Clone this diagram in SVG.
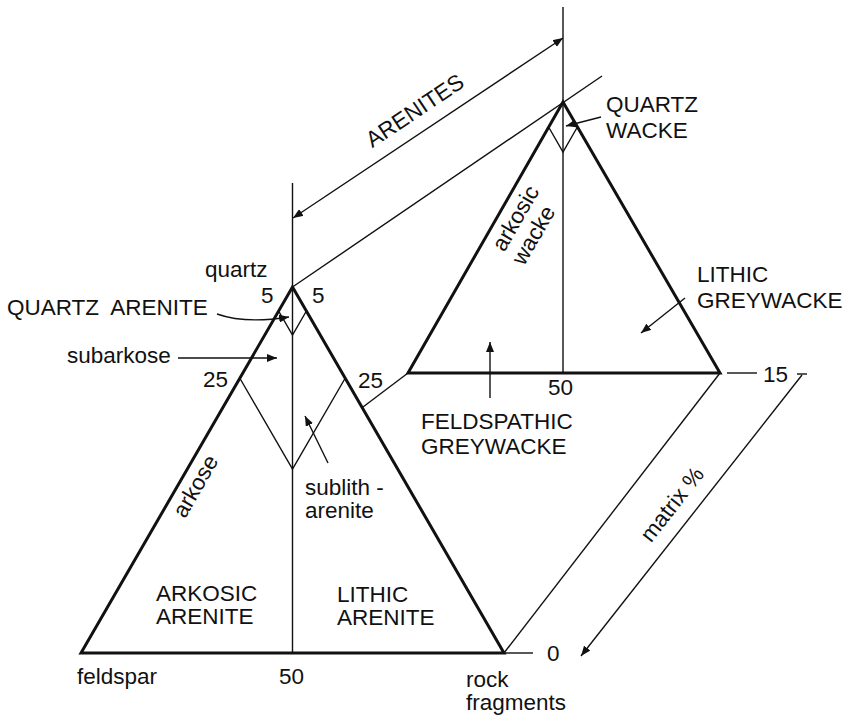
<svg xmlns="http://www.w3.org/2000/svg" width="855" height="719" viewBox="0 0 855 719">
<style>
text{font-family:"Liberation Sans",Arial,sans-serif;font-size:22.5px;fill:#111}
.thick{stroke:#111;stroke-width:3;fill:none;stroke-linejoin:miter}
.thin{stroke:#111;stroke-width:1.4;fill:none}
.arr{stroke:#111;stroke-width:1.4;fill:none;marker-end:url(#ah)}
</style>
<defs>
<marker id="ah" viewBox="0 0 10 8" refX="10" refY="4" markerWidth="10" markerHeight="8" markerUnits="userSpaceOnUse" orient="auto-start-reverse">
<path d="M0,0 L10,4 L0,8 Z" fill="#111"/>
</marker>
</defs>
<rect width="855" height="719" fill="#fff"/>

<g id="front-triangle">
<line class="thin" x1="292.5" y1="183" x2="292.5" y2="653"/>
<polyline class="thin" points="278.6,311 292.5,335 306.4,311"/>
<polyline class="thin" points="240,378.5 292.5,469 345,378.5"/>
<path class="thick" d="M81,653 L292.5,287 L504,653 Z"/>
<line class="thin" x1="504" y1="653" x2="533" y2="653"/>
</g>

<g id="back-triangle">
<line class="thin" x1="563" y1="7" x2="563" y2="373"/>
<polyline class="thin" points="548.6,127 563,152 577.4,127"/>
<path class="thick" d="M408,373 L563,102 L720,373 Z"/>
<line class="thin" x1="727" y1="373" x2="757" y2="373"/>
<line class="thin" x1="797" y1="374" x2="807" y2="374"/>
</g>

<g id="connectors">
<line class="thin" x1="292.5" y1="287" x2="602" y2="76"/>
<line class="thin" x1="363" y1="407" x2="408" y2="373"/>
<line class="thin" x1="504" y1="653" x2="720" y2="373"/>
<line class="arr" x1="563" y1="38" x2="293" y2="218" marker-start="url(#ah)"/>
<line class="arr" x1="802" y1="375" x2="581" y2="656"/>
<path class="arr" d="M217,314 Q245,324 289,317"/>
<line class="arr" x1="178" y1="358" x2="277" y2="358"/>
<line class="arr" x1="328" y1="463" x2="305" y2="416"/>
<line class="arr" x1="601" y1="117" x2="566" y2="126"/>
<line class="arr" x1="490" y1="398" x2="490" y2="342"/>
<line class="arr" x1="685" y1="298" x2="641" y2="333"/>
</g>

<g id="labels-front">
<text x="205" y="277">quartz</text>
<text x="261" y="303">5</text>
<text x="312" y="303">5</text>
<text x="7" y="315" xml:space="preserve">QUARTZ  ARENITE</text>
<text x="67" y="363">subarkose</text>
<text x="203" y="387">25</text>
<text x="358" y="388">25</text>
<text transform="translate(202,490) rotate(-60)" text-anchor="middle">arkose</text>
<text x="305" y="495">sublith -</text>
<text x="305" y="518">arenite</text>
<text x="156" y="601">ARKOSIC</text>
<text x="156" y="624">ARENITE</text>
<text x="337" y="602">LITHIC</text>
<text x="337" y="625">ARENITE</text>
<text x="77" y="684">feldspar</text>
<text x="279" y="684">50</text>
<text x="466" y="687">rock</text>
<text x="466" y="710">fragments</text>
<text x="547" y="661">0</text>
</g>

<g id="labels-back">
<text transform="translate(419,117) rotate(-33.7)" text-anchor="middle">ARENITES</text>
<text x="606" y="112">QUARTZ</text>
<text x="606" y="138">WACKE</text>
<g transform="translate(522,222) rotate(-60)">
<text x="0" y="0" text-anchor="middle">arkosic</text>
<text x="-5.7" y="24" text-anchor="middle">wacke</text>
</g>
<text x="697" y="282">LITHIC</text>
<text x="697" y="308">GREYWACKE</text>
<text x="548" y="395">50</text>
<text x="421" y="429">FELDSPATHIC</text>
<text x="421" y="454">GREYWACKE</text>
<text x="763" y="382">15</text>
<text transform="translate(678,509) rotate(-51.8)" text-anchor="middle">matrix %</text>
</g>
</svg>
